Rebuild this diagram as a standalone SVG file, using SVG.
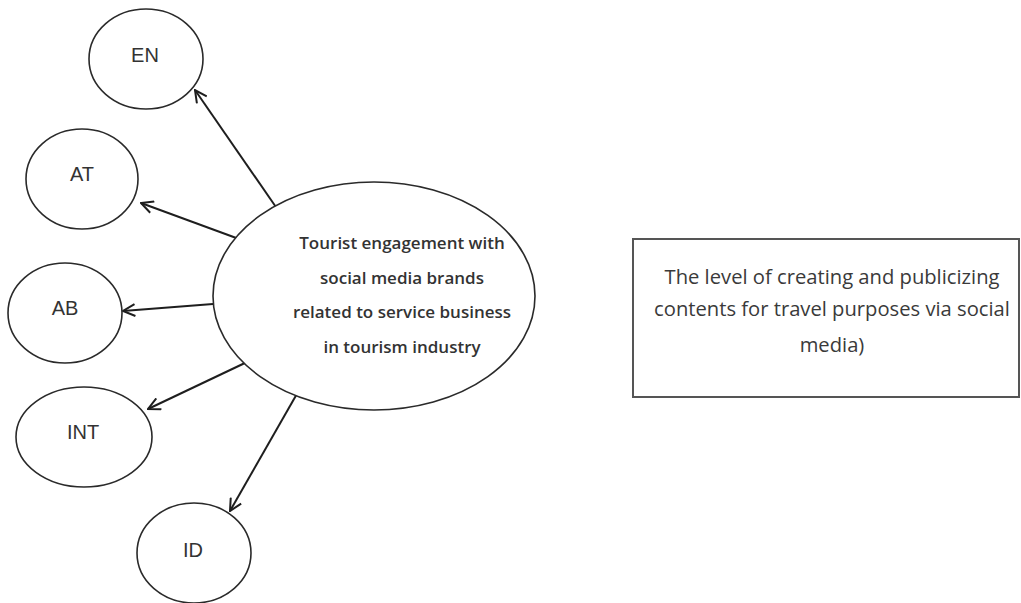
<svg xmlns="http://www.w3.org/2000/svg" width="1021" height="603" viewBox="0 0 1021 603">
  <style>
    .node { fill: #ffffff; stroke: #2a2a2a; stroke-width: 1.6; }
    .lbl { font-family: "Liberation Sans", Arial, sans-serif; font-size: 20px; fill: #333333; text-anchor: middle; dominant-baseline: central; }
    .core { font-family: "Open Sans", "Noto Sans", sans-serif; font-size: 17px; font-weight: 600; fill: #333333; text-anchor: middle; }
    .note { font-family: "Open Sans", "Noto Sans", sans-serif; font-size: 20.2px; fill: #3a3a3a; text-anchor: middle; }
    .edge { stroke: #1e1e1e; stroke-width: 2; fill: none; marker-end: url(#open); }
  </style>
  <defs>
    <marker id="open" viewBox="0 0 14 14" refX="13" refY="7" markerWidth="14" markerHeight="14" markerUnits="userSpaceOnUse" orient="auto">
      <path d="M1,1 L13,7 L1,13" fill="none" stroke="#1e1e1e" stroke-width="2"/>
    </marker>
  </defs>
  <rect width="1021" height="603" fill="#ffffff"/>

  <g id="connectors">
    <line class="edge" x1="278" y1="210" x2="195" y2="90"/>
    <line class="edge" x1="239" y1="239" x2="141" y2="203"/>
    <line class="edge" x1="213" y1="304" x2="123" y2="311"/>
    <line class="edge" x1="247" y1="362" x2="148" y2="409"/>
    <line class="edge" x1="298" y1="392" x2="230" y2="511"/>
  </g>

  <g id="engagement">
    <ellipse class="node" cx="374" cy="296" rx="161" ry="114"/>
    <text class="core" x="402" y="249">Tourist engagement with</text>
    <text class="core" x="402" y="284">social media brands</text>
    <text class="core" x="402" y="318">related to service business</text>
    <text class="core" x="402" y="353">in tourism industry</text>
  </g>

  <g id="EN">
    <ellipse class="node" cx="146" cy="59" rx="57" ry="50"/>
    <text class="lbl" x="145" y="55">EN</text>
  </g>
  <g id="AT">
    <ellipse class="node" cx="82" cy="179" rx="56" ry="50"/>
    <text class="lbl" x="82" y="174">AT</text>
  </g>
  <g id="AB">
    <ellipse class="node" cx="65" cy="313" rx="57" ry="50"/>
    <text class="lbl" x="65" y="308">AB</text>
  </g>
  <g id="INT">
    <ellipse class="node" cx="84" cy="437" rx="68" ry="50"/>
    <text class="lbl" x="83" y="432">INT</text>
  </g>
  <g id="ID">
    <ellipse class="node" cx="194" cy="553" rx="57" ry="50"/>
    <text class="lbl" x="193" y="550">ID</text>
  </g>

  <g id="definition">
    <rect x="633" y="239" width="386" height="158" fill="#ffffff" stroke="#555555" stroke-width="2"/>
    <text class="note" x="832" y="284">The level of creating and publicizing</text>
    <text class="note" x="832" y="316">contents for travel purposes via social</text>
    <text class="note" x="832" y="352">media)</text>
  </g>
</svg>
